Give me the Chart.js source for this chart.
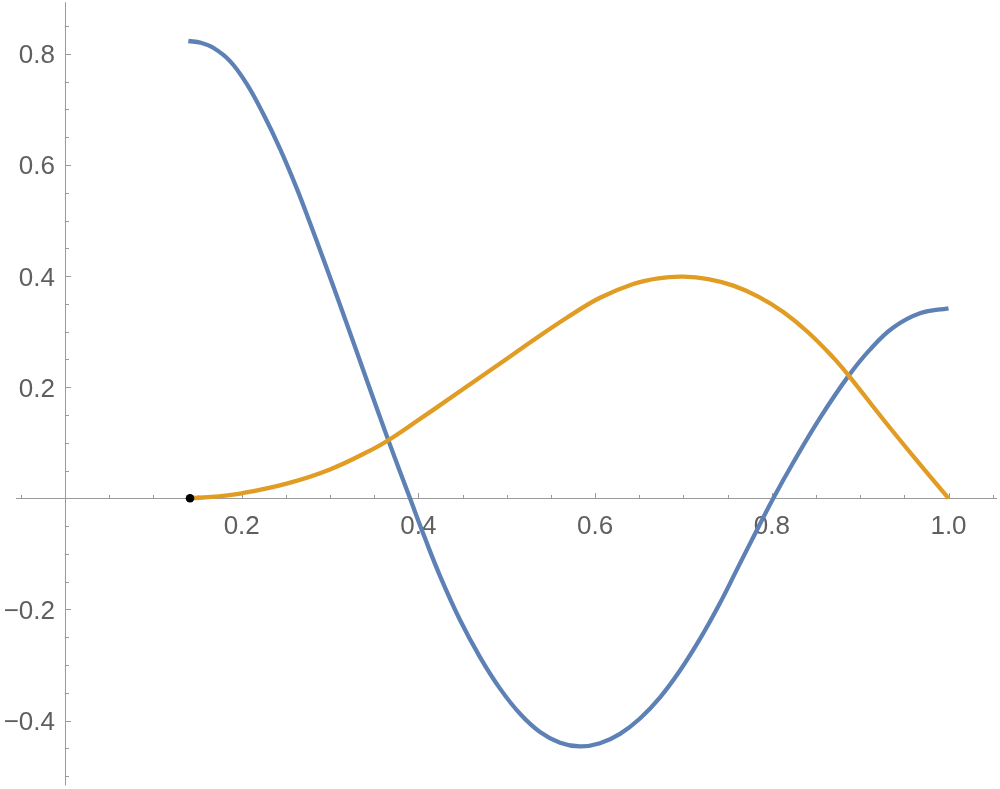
<!DOCTYPE html>
<html>
<head>
<meta charset="utf-8">
<script src="https://cdn.jsdelivr.net/npm/chart.js"></script>
<style>
    html, body { margin: 0; padding: 0; background: #fff; }
    #wrap { width: 1000px; height: 789px; }
</style>
</head>
<body>
<div id="wrap"><canvas id="plot" width="1000" height="789"></canvas></div>
<script>
// --- DATA ---
const blueX = [0.1396, 0.1537, 0.1678, 0.1868, 0.2057, 0.2245, 0.2434, 0.2623, 0.2773, 0.2924, 0.3169, 0.3415, 0.3659,
    0.3905, 0.4075, 0.4244, 0.4471, 0.4697, 0.4924, 0.5150, 0.5376, 0.5603, 0.5829, 0.6055, 0.6282, 0.6508,
    0.6735, 0.6961, 0.7187, 0.7414, 0.7603, 0.7772, 0.8017, 0.8243, 0.8546, 0.8866, 0.9111, 0.9375, 0.9677, 1.0000];
const blueY = [0.8232, 0.8200, 0.8110, 0.7870, 0.7460, 0.6916, 0.6289, 0.5579, 0.4955, 0.4308, 0.3232, 0.2131, 0.1047,
    0.0000, -0.0720, -0.1395, -0.2191, -0.2858, -0.3426, -0.3878, -0.4206, -0.4399, -0.4467, -0.4410, -0.4240, -0.3964,
    -0.3583, -0.3100, -0.2531, -0.1884, -0.1289, -0.0757, 0.0000, 0.0644, 0.1447, 0.2199, 0.2677, 0.3073, 0.3330, 0.3420];

const orangeX = [0.1415, 0.1700, 0.2000, 0.2509, 0.2999, 0.3490, 0.3659, 0.3942, 0.4434, 0.4924, 0.5300, 0.5679,
    0.6055, 0.6432, 0.6715, 0.6998, 0.7280, 0.7564, 0.7847, 0.8130, 0.8413, 0.8696, 0.8866, 0.9262, 0.9640, 1.0000];
const orangeY = [0.0000, 0.0030, 0.0090, 0.0265, 0.0520, 0.0890, 0.1044, 0.1345, 0.1885, 0.2425, 0.2844, 0.3250,
    0.3610, 0.3859, 0.3961, 0.3989, 0.3947, 0.3828, 0.3630, 0.3353, 0.2985, 0.2532, 0.2217, 0.1419, 0.0682, 0.0000];

const startPoint = [{ x: 0.1415, y: 0 }];

const xMajor = [0.2, 0.4, 0.6, 0.8, 1.0];
const xLabels = ['0.2', '0.4', '0.6', '0.8', '1.0'];
const yMajor = [-0.4, -0.2, 0.2, 0.4, 0.6, 0.8];
const yLabels = ['\u22120.4', '\u22120.2', '0.2', '0.4', '0.6', '0.8'];

// axis extents (data units)
const xAxisFrom = -0.0555, xAxisTo = 1.055;
const yAxisFrom = -0.517, yAxisTo = 0.893;

const zip = (xs, ys) => xs.map((x, i) => ({ x: x, y: ys[i] }));

// --- AXES THROUGH THE ORIGIN ---
const originAxes = {
    id: 'originAxes',
    beforeDatasetsDraw(chart) {
        const ctx = chart.ctx;
        const sx = chart.scales.x, sy = chart.scales.y;
        const x0 = Math.round(sx.getPixelForValue(0)), y0 = Math.round(sy.getPixelForValue(0));
        ctx.save();
        ctx.strokeStyle = '#9a9a9a';
        ctx.lineWidth = 1;
        ctx.beginPath();
        ctx.moveTo(sx.getPixelForValue(xAxisFrom), y0 + 0.5);
        ctx.lineTo(sx.getPixelForValue(xAxisTo), y0 + 0.5);
        ctx.moveTo(x0 + 0.5, sy.getPixelForValue(yAxisTo));
        ctx.lineTo(x0 + 0.5, sy.getPixelForValue(yAxisFrom));
        // x ticks every 0.05, pointing up
        for (let i = -1; i <= 21; i++) {
            if (i === 0) continue;
            const px = Math.round(sx.getPixelForValue(i * 0.05)) + 0.5;
            const len = i % 4 === 0 ? 5 : 3;
            ctx.moveTo(px, y0);
            ctx.lineTo(px, y0 - len);
        }
        // y ticks every 0.05, pointing right
        for (let i = -10; i <= 17; i++) {
            if (i === 0) continue;
            const py = Math.round(sy.getPixelForValue(i * 0.05)) + 0.5;
            const len = i % 4 === 0 ? 5 : 3;
            ctx.moveTo(x0 + 1, py);
            ctx.lineTo(x0 + 1 + len, py);
        }
        ctx.stroke();

        ctx.fillStyle = '#5f5f5f';
        ctx.font = '26px "Liberation Sans", Arial, sans-serif';
        ctx.textBaseline = 'alphabetic';
        ctx.textAlign = 'center';
        xMajor.forEach((v, i) => ctx.fillText(xLabels[i], sx.getPixelForValue(v), y0 + 36));
        ctx.textAlign = 'right';
        yMajor.forEach((v, i) => ctx.fillText(yLabels[i], x0 - 10, sy.getPixelForValue(v) + 9.5));
        ctx.restore();
    }
};

new Chart(document.getElementById('plot'), {
    type: 'scatter',
    data: {
        datasets: [
            {
                data: startPoint,
                order: 0,
                pointRadius: 4.3,
                pointBackgroundColor: '#000',
                pointBorderWidth: 0
            },
            {
                data: zip(orangeX, orangeY),
                order: 1,
                showLine: true,
                borderColor: '#e19c24',
                borderWidth: 4.3,
                pointRadius: 0,
                tension: 0.4
            },
            {
                data: zip(blueX, blueY),
                order: 2,
                showLine: true,
                borderColor: '#5e81b5',
                borderWidth: 4.3,
                pointRadius: 0,
                tension: 0.4
            }
        ]
    },
    options: {
        responsive: false,
        animation: false,
        layout: { padding: 0, autoPadding: false },
        plugins: { legend: { display: false }, tooltip: { enabled: false } },
        scales: {
            x: { type: 'linear', min: -0.07357, max: 1.05828, display: false },
            y: { type: 'linear', min: -0.5233, max: 0.8970, display: false }
        }
    },
    plugins: [originAxes]
});
</script>
</body>
</html>
